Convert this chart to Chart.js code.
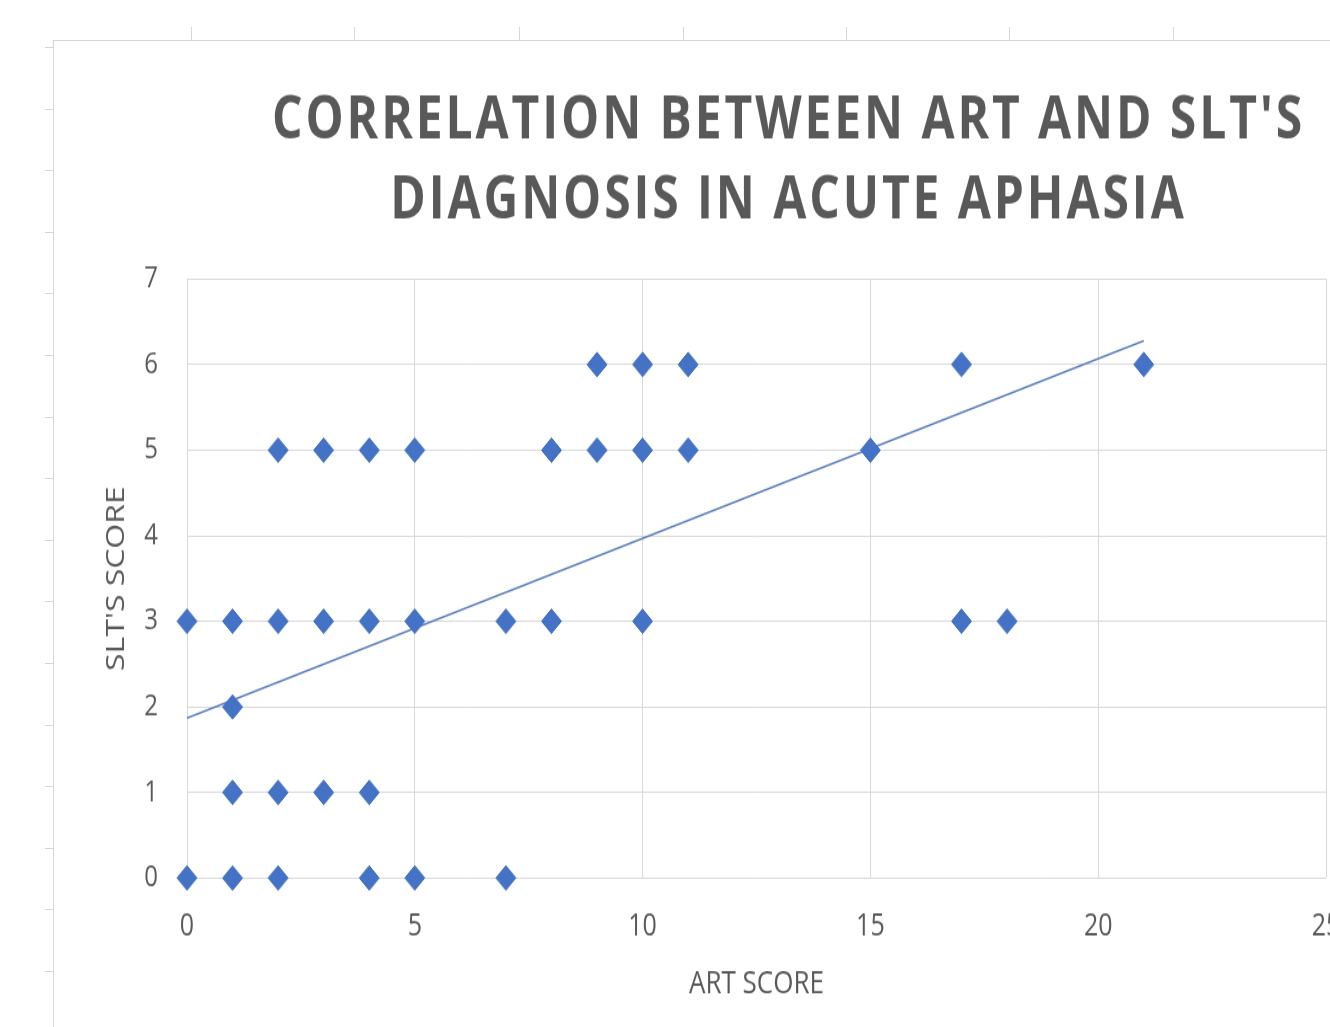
<!DOCTYPE html>
<html>
<head>
<meta charset="utf-8">
<script src="https://cdn.jsdelivr.net/npm/chart.js@4.4.1/dist/chart.umd.min.js"></script>
<style>
  html, body { margin: 0; padding: 0; background: #ffffff; overflow: hidden; width: 1330px; height: 1027px; }
  #wrap { position: absolute; left: 53px; top: 40px; width: 1300px; height: 830px; transform: scaleY(1.23); transform-origin: 0 0; }
  .ln { position: absolute; background: #d6d6d6; }
</style>
</head>
<body>
<div id="deco"></div>
<div id="wrap"><canvas id="c"></canvas></div>
<script>
// ---- data ----
const titleLines = ["CORRELATION BETWEEN ART AND SLT'S", "DIAGNOSIS IN ACUTE APHASIA"];
const xAxisTitle = "ART SCORE";
const yAxisTitle = "SLT'S SCORE";
const artScores = [0,1,2,4,5,7, 1,2,3,4, 1, 0,1,2,3,4,5,7,8,10,17,18, 2,3,4,5,8,9,10,11,15, 9,10,11,17,21];
const sltScores = [0,0,0,0,0,0, 1,1,1,1, 2, 3,3,3,3,3,3,3,3,3,3,3, 5,5,5,5,5,5,5,5,5, 6,6,6,6,6];
const trendX = [0, 21];
const trendY = [1.87, 6.28];
const xTicks = [0, 5, 10, 15, 20, 25];
const yTicks = [0, 1, 2, 3, 4, 5, 6, 7];

// ---- spreadsheet frame decoration ----
const deco = document.getElementById('deco');
function addLine(l, t, w, h) { const d = document.createElement('div'); d.className = 'ln'; d.style.cssText = `left:${l}px;top:${t}px;width:${w}px;height:${h}px`; deco.appendChild(d); }
addLine(53, 40, 1277, 1);
addLine(53, 40, 1, 987);
[191, 354, 519, 683, 846, 1009, 1173].forEach(x => addLine(x, 27, 1, 13));
for (let i = 0; i < 16; i++) addLine(45, Math.round(47 + i * 61.6), 8, 1);

const points = artScores.map((x, i) => ({ x: x, y: sltScores[i] }));
const trend = trendX.map((x, i) => ({ x: x, y: trendY[i] }));

const titlePlugin = {
  id: 'bigTitle',
  afterDraw(chart) {
    const ctx = chart.ctx;
    ctx.save();
    ctx.font = 'bold 48px "Open Sans"';
    ctx.fillStyle = '#595959';
    ctx.textAlign = 'center';
    ctx.textBaseline = 'alphabetic';
    const w0 = ctx.measureText(titleLines[0]).width;
    const sp = Math.max(0, (1030 - w0) / (titleLines[0].length - 1));
    ctx.letterSpacing = sp.toFixed(2) + 'px';
    const baselines = [79.7, 144.7];
    titleLines.forEach((t, i) => ctx.fillText(t, 734 + sp / 2, baselines[i]));
    ctx.restore();
  }
};

const tickColor = '#595959';
new Chart(document.getElementById('c'), {
  type: 'scatter',
  data: {
    datasets: [
      {
        label: 'SLT score',
        data: points,
        pointStyle: 'rectRot',
        pointRadius: 10,
        pointHoverRadius: 10,
        backgroundColor: '#4472C4',
        borderColor: '#4472C4',
        borderWidth: 1,
        clip: false,
        order: 1
      },
      {
        type: 'line',
        label: 'Trend',
        data: trend,
        borderColor: '#5B7DBD',
        borderWidth: 1.6,
        pointRadius: 0,
        fill: false,
        clip: false,
        order: 2
      }
    ]
  },
  options: {
    responsive: true,
    maintainAspectRatio: false,
    animation: false,
    layout: { padding: { top: 194.3, left: 0, right: 27, bottom: 0 } },
    plugins: { legend: { display: false }, title: { display: false }, tooltip: { enabled: false } },
    scales: {
      x: {
        type: 'linear',
        min: 0, max: 25,
        afterBuildTicks: (s) => { s.ticks = xTicks.map(v => ({ value: v })); },
        afterFit: (s) => { s.height = 830 - 681.3; s.paddingLeft = 0; s.paddingRight = 0; },
        grid: { color: '#d9d9d9', lineWidth: 1, drawTicks: false },
        border: { display: false },
        ticks: { color: tickColor, font: { family: 'Open Sans', size: 25 }, padding: 25, maxRotation: 0 },
        title: { display: true, text: xAxisTitle, color: tickColor, font: { family: 'Open Sans', size: 26 }, padding: { top: 0, bottom: 46.5 } }
      },
      y: {
        type: 'linear',
        min: 0, max: 7,
        afterBuildTicks: (s) => { s.ticks = yTicks.map(v => ({ value: v })); },
        afterFit: (s) => { s.width = 134; },
        grid: { color: '#d9d9d9', lineWidth: 1, drawTicks: false },
        border: { display: false },
        ticks: { color: tickColor, font: { family: 'Open Sans', size: 24 }, padding: 29 },
        title: { display: true, text: yAxisTitle, color: tickColor, font: { family: 'Open Sans', size: 26 }, padding: { top: 48.4, bottom: 0 } }
      }
    }
  },
  plugins: [titlePlugin]
});
</script>
</body>
</html>
